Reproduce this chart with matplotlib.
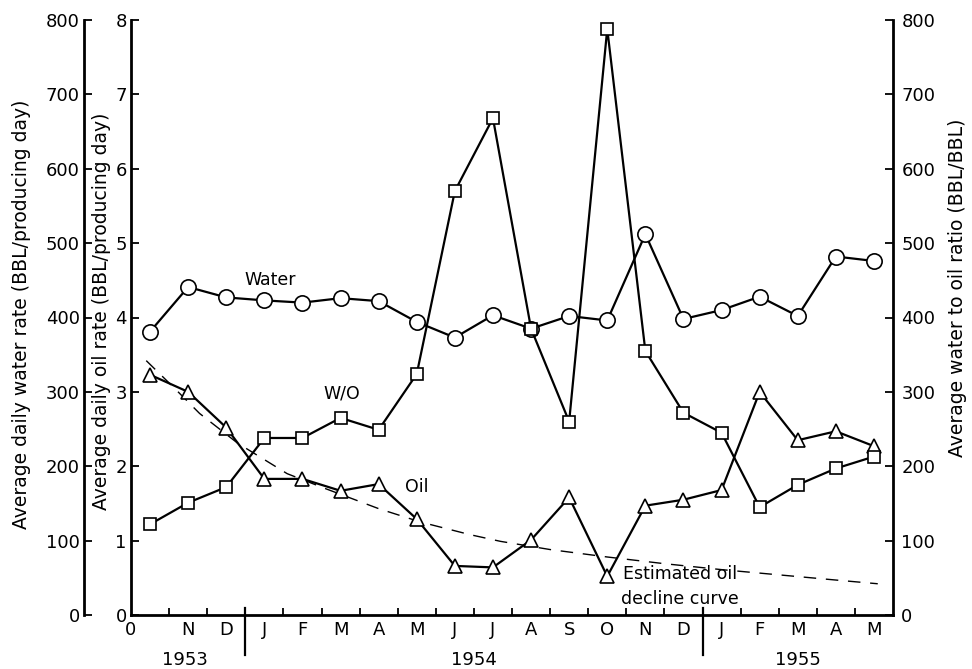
import matplotlib
matplotlib.use("Agg")
import matplotlib.pyplot as plt
from matplotlib.lines import Line2D
import matplotlib.transforms as mtransforms
import numpy as np

plt.rcParams['font.family'] = ['DejaVu Sans']

# ---------------- data ----------------
month_labels = ["0", "N", "D", "J", "F", "M", "A", "M", "J", "J",
                "A", "S", "O", "N", "D", "J", "F", "M", "A", "M"]
year_labels = ["1953", "1954", "1955"]
year_pos = [1.42, 9.0, 17.5]
year_breaks = [3, 15]

water = [381, 441, 427, 423, 420, 426, 422, 394, 373, 403,
         385, 402, 396, 512, 398, 410, 428, 402, 482, 476]
wo_ratio = [122, 151, 172, 238, 238, 265, 249, 324, 570, 668,
            385, 260, 788, 355, 272, 245, 145, 175, 197, 213]
oil = [3.23, 3.00, 2.52, 1.83, 1.83, 1.67, 1.76, 1.29, 0.66, 0.64,
       1.01, 1.58, 0.52, 1.47, 1.55, 1.68, 3.00, 2.35, 2.47, 2.27]

decline_x = [0.4, 1.1, 1.8, 2.8, 4.1, 5.1, 6.5, 7.6, 8.9, 9.7,
             11.0, 12.5, 14.0, 15.5, 17.0, 18.5, 19.6]
decline_y = [3.42, 3.07, 2.71, 2.31, 1.90, 1.70, 1.43, 1.25, 1.08, 0.99,
             0.88, 0.78, 0.69, 0.61, 0.54, 0.47, 0.42]

x = np.arange(len(water)) + 0.5

# ---------------- figure ----------------
W, H = 972, 669
fig = plt.figure(figsize=(W / 100, H / 100), dpi=100)
L, R, T, B = 131, 893, 20, 615
ax = fig.add_axes([L / W, 1 - B / H, (R - L) / W, (B - T) / H])
ax.set_xlim(0, 20)
ax.set_ylim(0, 8)
ax.patch.set_alpha(0)

spine_lw = 2.0
ax.spines['top'].set_visible(False)
ax.spines['right'].set_visible(False)
ax.spines['left'].set_linewidth(spine_lw)
ax.spines['bottom'].set_linewidth(spine_lw)

tick_fs = 13
label_fs = 13.5

# x ticks: month boundaries (marks), labels centred in months
ax.set_xticks(np.arange(1, 20))
ax.set_xticklabels([])
ax.tick_params(axis='x', which='major', direction='in', length=5, width=1.3)
ax.set_xticks([0] + list(np.arange(1, 20) + 0.5), minor=True)
ax.set_xticklabels(month_labels, minor=True)
ax.tick_params(axis='x', which='minor', length=0, pad=4, labelsize=tick_fs)

# inner oil axis
ax.set_yticks(np.arange(0, 9))
ax.tick_params(axis='y', direction='in', length=6, width=1.3, pad=3, labelsize=tick_fs)
ax.set_ylabel("Average daily oil rate (BBL/producing day)", fontsize=label_fs)
ax.yaxis.set_label_coords(-0.026, 0.51)

# year separators and year labels
trans = mtransforms.blended_transform_factory(ax.transData, ax.transAxes)
for xb in year_breaks:
    ax.add_line(Line2D([xb, xb], [0.012, -0.068], transform=trans,
                       color='black', lw=1.6, clip_on=False))
for yl, yp in zip(year_labels, year_pos):
    ax.text(yp, -0.076, yl, transform=trans, ha='center', va='center', fontsize=tick_fs)

# outer water axis
axw = ax.twinx()
axw.set_ylim(0, 800)
axw.patch.set_alpha(0)
for s in ['top', 'right', 'bottom']:
    axw.spines[s].set_visible(False)
axw.spines['left'].set_visible(True)
axw.spines['left'].set_position(('outward', 47 * 0.72))
axw.spines['left'].set_linewidth(spine_lw)
axw.yaxis.set_ticks_position('left')
axw.yaxis.set_label_position('left')
axw.set_yticks(np.arange(0, 801, 100))
axw.tick_params(axis='y', direction='in', length=6, width=1.3, pad=3, labelsize=tick_fs)
axw.set_ylabel("Average daily water rate (BBL/producing day)", fontsize=label_fs)
axw.yaxis.set_label_coords(-0.131, 0.505)

# right W/O axis
axr = ax.twinx()
axr.set_ylim(0, 800)
axr.patch.set_alpha(0)
for s in ['top', 'left', 'bottom']:
    axr.spines[s].set_visible(False)
axr.spines['right'].set_linewidth(spine_lw)
axr.set_yticks(np.arange(0, 801, 100))
axr.tick_params(axis='y', direction='in', length=6, width=1.3, pad=6, labelsize=tick_fs)
axr.set_ylabel("Average water to oil ratio (BBL/BBL)", fontsize=label_fs)
axr.yaxis.set_label_coords(1.072, 0.55)

# ---------------- series ----------------
ax.plot(decline_x, decline_y, color='black', lw=1.0, ls=(0, (9, 7)), zorder=2)
ax.plot(x, oil, color='black', lw=1.6, marker='^', ms=10, mfc='white',
        mec='black', mew=1.2, zorder=3)
axw.plot(x, water, color='black', lw=1.6, marker='o', ms=11, mfc='white',
         mec='black', mew=1.2, zorder=3)
axr.plot(x, wo_ratio, color='black', lw=1.6, marker='s', ms=9, mfc='white',
         mec='black', mew=1.2, zorder=3)

# annotations
ann_fs = 12.5
ax.text(3.65, 4.5, "Water", ha='center', va='center', fontsize=ann_fs)
ax.text(5.53, 2.98, "W/O", ha='center', va='center', fontsize=ann_fs)
ax.text(7.5, 1.72, "Oil", ha='center', va='center', fontsize=ann_fs)
ax.text(14.4, 0.55, "Estimated oil", ha='center', va='center', fontsize=ann_fs)
ax.text(14.4, 0.22, "decline curve", ha='center', va='center', fontsize=ann_fs)

fig.savefig("out.png", dpi=100)
